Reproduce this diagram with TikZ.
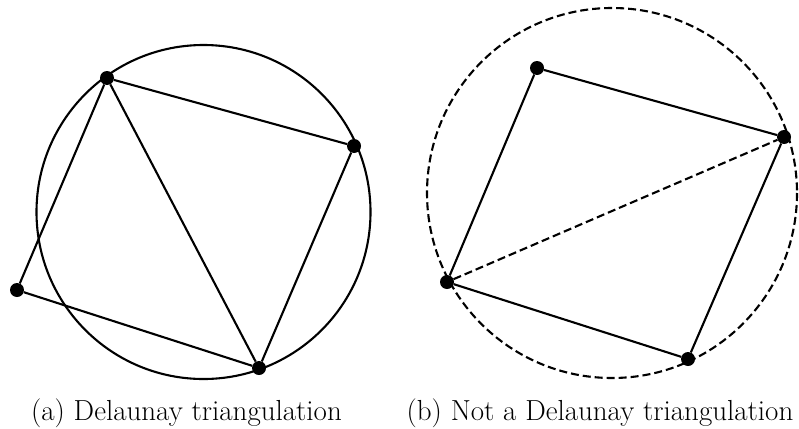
\documentclass[tikz,border=0pt]{standalone}
\begin{document}
\begin{tikzpicture}[x=1pt,y=-1pt,
  dot/.style={circle,fill=black,draw=none,inner sep=0pt,minimum size=14pt},
  edge/.style={line width=2.1pt},
  dashededge/.style={line width=2.1pt,dash pattern=on 8pt off 4pt},
  caption/.style={font=\fontsize{29}{35}\selectfont,anchor=base,inner sep=0pt}]
\useasboundingbox (0,0) rectangle (799,428);
% left
\draw[edge] (203.5,212) circle[radius=167];
\node[dot] (A) at (107,78) {};
\node[dot] (B) at (354,146) {};
\node[dot] (C) at (259,368) {};
\node[dot] (D) at (17,290) {};
\draw[edge] (A) -- (B) -- (C) -- (A);
\draw[edge] (A) -- (D) -- (C);
% right
\draw[dashededge] (612,193) circle[radius=185];
\node[dot] (E) at (537,68) {};
\node[dot] (F) at (784,137) {};
\node[dot] (G) at (688,359) {};
\node[dot] (H) at (447,282) {};
\draw[edge] (E) -- (F) -- (G) -- (H) -- (E);
\draw[dashededge] (H) -- (F);
\node[caption] (capa) at (186.5,420) {(a) Delaunay triangulation};
\node[caption] (capb) at (600,420) {(b) Not a Delaunay triangulation};
\end{tikzpicture}
\end{document}
